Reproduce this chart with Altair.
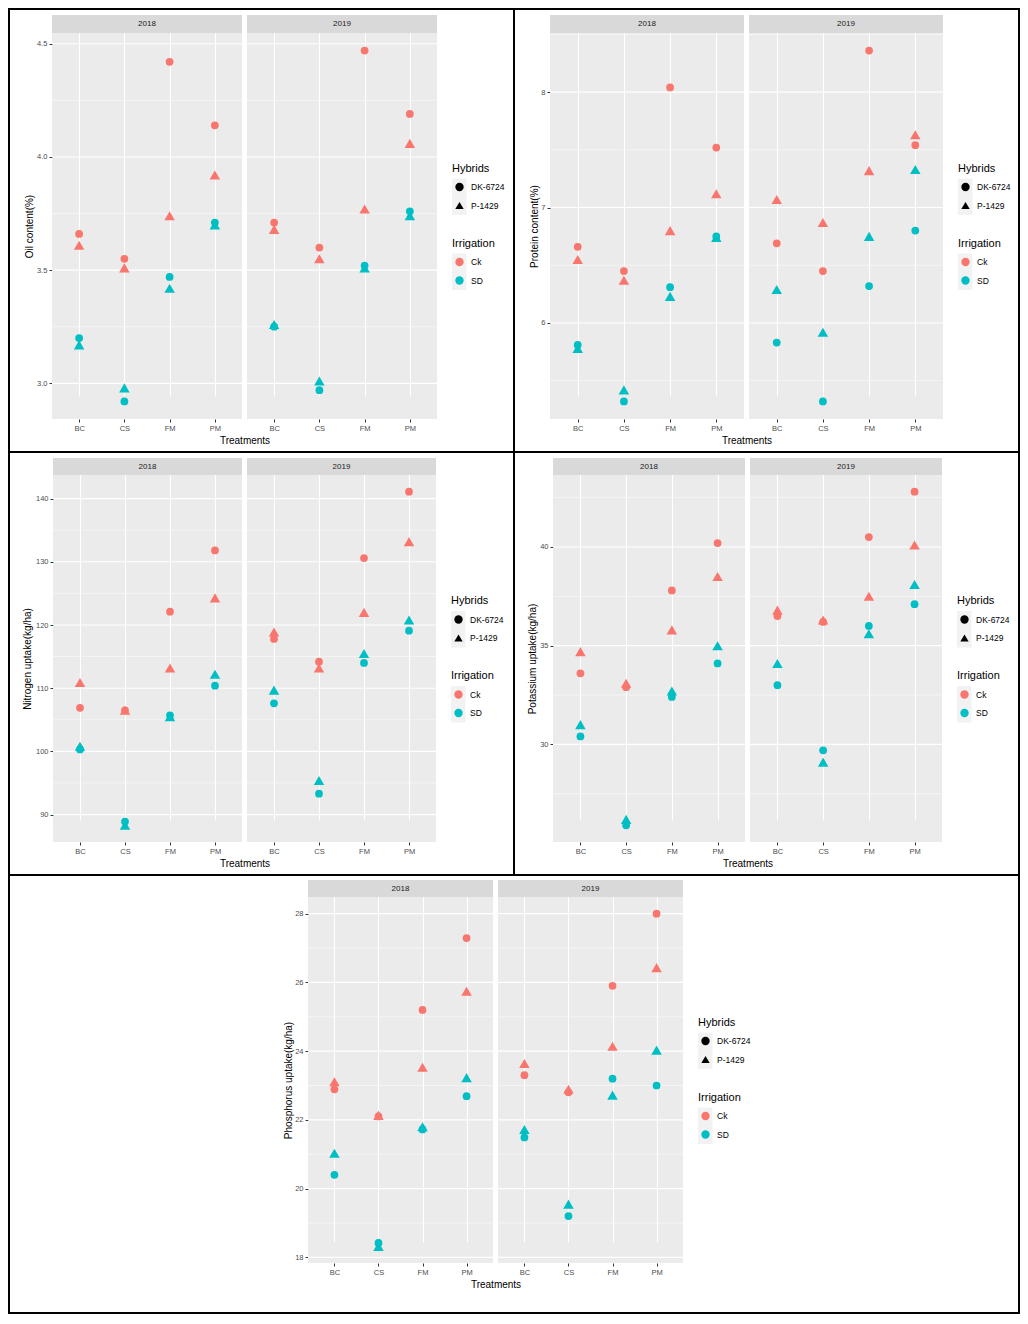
import altair as alt
import pandas as pd

TREATMENTS = ["BC", "CS", "FM", "PM"]
YEARS = ["2018", "2019"]
HYBRIDS = ["DK-6724", "P-1429"]
IRRIGATION = ["Ck", "SD"]
COLORS = ["#F8766D", "#00BFC4"]

# each list: 2018 BC, CS, FM, PM, then 2019 BC, CS, FM, PM
OIL_CK_DK = [3.66, 3.55, 4.42, 4.14, 3.71, 3.60, 4.47, 4.19]
OIL_CK_P = [3.61, 3.51, 3.74, 3.92, 3.68, 3.55, 3.77, 4.06]
OIL_SD_DK = [3.20, 2.92, 3.47, 3.71, 3.25, 2.97, 3.52, 3.76]
OIL_SD_P = [3.17, 2.98, 3.42, 3.70, 3.26, 3.01, 3.51, 3.74]

PROT_CK_DK = [6.66, 6.45, 8.04, 7.52, 6.69, 6.45, 8.36, 7.54]
PROT_CK_P = [6.55, 6.37, 6.80, 7.12, 7.07, 6.87, 7.32, 7.63]
PROT_SD_DK = [5.81, 5.32, 6.31, 6.75, 5.83, 5.32, 6.32, 6.80]
PROT_SD_P = [5.78, 5.42, 6.23, 6.74, 6.29, 5.92, 6.75, 7.33]

N_CK_DK = [106.9, 106.5, 122.1, 131.8, 117.8, 114.2, 130.6, 141.1]
N_CK_P = [110.9, 106.5, 113.2, 124.3, 118.9, 113.2, 122.0, 133.2]
N_SD_DK = [100.3, 88.9, 105.7, 110.4, 107.6, 93.3, 114.0, 119.1]
N_SD_P = [100.8, 88.3, 105.5, 112.2, 109.7, 95.4, 115.5, 120.8]

K_CK_DK = [33.6, 32.9, 37.8, 40.2, 36.5, 36.2, 40.5, 42.8]
K_CK_P = [34.7, 33.1, 35.8, 38.5, 36.8, 36.3, 37.5, 40.1]
K_SD_DK = [30.4, 25.9, 32.4, 34.1, 33.0, 29.7, 36.0, 37.1]
K_SD_P = [31.0, 26.2, 32.7, 35.0, 34.1, 29.1, 35.6, 38.1]

P_CK_DK = [22.89, 22.10, 25.20, 27.29, 23.30, 22.80, 25.90, 28.00]
P_CK_P = [23.11, 22.13, 23.53, 25.74, 23.64, 22.89, 24.14, 26.43]
P_SD_DK = [20.40, 18.42, 21.72, 22.69, 21.49, 19.20, 23.20, 23.00]
P_SD_P = [21.03, 18.32, 21.80, 23.23, 21.72, 19.55, 22.72, 24.03]

OIL_TICKS = [3.0, 3.5, 4.0, 4.5]
OIL_MINOR = [3.25, 3.75, 4.25]
PROT_TICKS = [6, 7, 8]
PROT_MINOR = [5.5, 6.5, 7.5, 8.5]
N_TICKS = [90, 100, 110, 120, 130, 140]
N_MINOR = [95, 105, 115, 125, 135]
K_TICKS = [30, 35, 40]
K_MINOR = [27.5, 32.5, 37.5, 42.5]
P_TICKS = [18, 20, 22, 24, 26, 28]
P_MINOR = [19, 21, 23, 25, 27]

FONT = "Liberation Sans"


def build_df(series):
    rows = []
    for (irr, hyb), vals in series.items():
        for i, v in enumerate(vals):
            rows.append({"year": YEARS[i // 4], "treatment": TREATMENTS[i % 4],
                         "irrigation": irr, "hybrid": hyb, "value": v})
    return pd.DataFrame(rows)


def spacer(w, h, fill=None):
    props = dict(width=w, height=h)
    if fill:
        props["view"] = alt.ViewBackground(fill=fill, strokeWidth=0)
    return (alt.Chart(pd.DataFrame({"a": [0]}))
            .mark_point(opacity=0, size=1, strokeWidth=0)
            .encode(x=alt.value(1), y=alt.value(1))
            .properties(**props))


def indep(c):
    return c.resolve_scale(color="independent", shape="independent",
                           x="independent", y="independent")


def plot(df, year, w, top, sh, ph, gap, domain, ticks, minor, fmt, ytitle, ytx, first):
    H = top + sh + ph
    cy = top + sh + ph / 2
    d = df[df["year"] == year]
    one = pd.DataFrame({"year": [year]})
    yscale = alt.Scale(domain=domain, range=[H, top + sh], nice=False, zero=False)
    lab = dict(tickSize=3, tickColor="#333333", labelFontSize=7.5,
               labelColor="#4D4D4D", labelPadding=2, labelFont=FONT, domain=False)
    ttl = dict(titleFontSize=10, titleFontWeight="normal", titleColor="black",
               titleFont=FONT, titleBaseline="middle", titleAlign="center")
    xgrid = dict(grid=True, gridColor="white", gridWidth=1.1)
    extra = []
    if first:
        yaxis = alt.Axis(values=ticks, format=fmt, title=ytitle, titleAngle=270,
                         titleX=ytx, titleY=cy, grid=False, **lab, **ttl)
        xaxis = alt.Axis(title="Treatments", labelAngle=0, titleX=w + gap / 2,
                         titleY=21, **xgrid, **lab, **ttl)
        shape_leg = None
        color_leg = None
    else:
        yaxis = alt.Axis(values=ticks, title=None, grid=False, labels=False,
                         ticks=False, domain=False)
        xaxis = alt.Axis(title=None, labelAngle=0, **xgrid, **lab)
        common = dict(orient="none", legendX=w + 15, titleFontSize=11,
                      titleFontWeight="normal", titleColor="black", titleFont=FONT,
                      labelFont=FONT, labelFontSize=8.5, labelColor="black",
                      symbolSize=70, symbolStrokeWidth=0, symbolOffset=3,
                      labelOffset=7, titlePadding=9, rowPadding=9.5,
                      symbolOpacity=1)
        shape_leg = alt.Legend(title="Hybrids", legendY=cy - 63.5,
                               symbolFillColor="black", symbolStrokeColor="black",
                               **common)
        color_leg = alt.Legend(title="Irrigation", legendY=cy + 11.5,
                               symbolType="circle", **common)
        # grey key backgrounds of the two legends
        for y0, y1 in ((cy - 47.5, cy - 11), (cy + 27.5, cy + 64)):
            extra.append(alt.Chart(one).mark_rect(color="#F2F2F2")
                         .encode(x=alt.value(w + 15), x2=alt.value(w + 29.5),
                                 y=alt.value(y0), y2=alt.value(y1)))
    xscale = alt.Scale(type="point", padding=0.6, domain=TREATMENTS)

    major_layer = (alt.Chart(pd.DataFrame({"value": ticks}))
                   .mark_rule(color="white", strokeWidth=1.1)
                   .encode(y=alt.Y("value:Q", scale=yscale, axis=yaxis)))
    minor_layer = (alt.Chart(pd.DataFrame({"value": minor}))
                   .mark_rule(color="white", strokeWidth=0.5)
                   .encode(y=alt.Y("value:Q", scale=yscale, axis=yaxis)))

    def pts(hyb, size):
        enc = dict(
            x=alt.X("treatment:N", scale=xscale, sort=TREATMENTS, axis=xaxis),
            y=alt.Y("value:Q", scale=yscale, axis=yaxis),
            color=alt.Color("irrigation:N",
                            scale=alt.Scale(domain=IRRIGATION, range=COLORS),
                            legend=color_leg),
            shape=alt.Shape("hybrid:N",
                            scale=alt.Scale(domain=HYBRIDS,
                                            range=["circle", "triangle-up"]),
                            legend=shape_leg),
        )
        return (alt.Chart(d[d["hybrid"] == hyb])
                .mark_point(filled=True, opacity=1, strokeWidth=0, size=size)
                .encode(**enc))

    top_mask = (alt.Chart(one).mark_rect(color="white")
                .encode(x=alt.value(0), x2=alt.value(w), y=alt.value(0),
                        y2=alt.value(top)))
    strip_bg = (alt.Chart(one).mark_rect(color="#D9D9D9")
                .encode(x=alt.value(0), x2=alt.value(w), y=alt.value(top),
                        y2=alt.value(top + sh)))
    strip_txt = (alt.Chart(one)
                 .mark_text(fontSize=8, color="#1A1A1A", font=FONT,
                            baseline="middle")
                 .encode(text="year:N", x=alt.value(w / 2),
                         y=alt.value(top + sh / 2)))
    return (alt.layer(major_layer, minor_layer,
                      pts("DK-6724", 60), pts("P-1429", 110),
                      top_mask, strip_bg, strip_txt, *extra)
            .properties(width=w, height=H,
                        view=alt.ViewBackground(fill="#EBEBEB", strokeWidth=0)))


def quadrant(series, ticks, minor, fmt, ytitle, ytx, L, W, gap, R, top, sh, ph):
    df = build_df(series)
    vals = df["value"]
    span = vals.max() - vals.min()
    domain = [float(vals.min() - 0.05 * span), float(vals.max() + 0.05 * span)]
    H = top + sh + ph
    p18 = plot(df, "2018", W, top, sh, ph, gap, domain, ticks, minor, fmt,
               ytitle, ytx, True)
    p19 = plot(df, "2019", W, top, sh, ph, gap, domain, ticks, minor, fmt,
               ytitle, ytx, False)
    return [spacer(L, H), p18, spacer(gap, H), p19, spacer(R, H)]


def vline(h):
    return spacer(2, h, "black")


def hline(w):
    return spacer(w, 2, "black")


oil = quadrant({("Ck", "DK-6724"): OIL_CK_DK, ("Ck", "P-1429"): OIL_CK_P,
                ("SD", "DK-6724"): OIL_SD_DK, ("SD", "P-1429"): OIL_SD_P},
               OIL_TICKS, OIL_MINOR, ".1f", "Oil content(%)", -23,
               42, 190, 5, 76, 5, 18, 386)
prot = quadrant({("Ck", "DK-6724"): PROT_CK_DK, ("Ck", "P-1429"): PROT_CK_P,
                 ("SD", "DK-6724"): PROT_SD_DK, ("SD", "P-1429"): PROT_SD_P},
                PROT_TICKS, PROT_MINOR, "d", "Protein content(%)", -16,
                35, 194, 5, 75, 5, 18, 386)
nit = quadrant({("Ck", "DK-6724"): N_CK_DK, ("Ck", "P-1429"): N_CK_P,
                ("SD", "DK-6724"): N_SD_DK, ("SD", "P-1429"): N_SD_P},
               N_TICKS, N_MINOR, "d", "Nitrogen uptake(kg/ha)", -26,
               43, 189, 5, 77, 5, 17, 367)
pot = quadrant({("Ck", "DK-6724"): K_CK_DK, ("Ck", "P-1429"): K_CK_P,
                ("SD", "DK-6724"): K_SD_DK, ("SD", "P-1429"): K_SD_P},
               K_TICKS, K_MINOR, "d", "Potassium uptake(kg/ha)", -21,
               38, 192, 5, 76, 5, 17, 367)
pho = quadrant({("Ck", "DK-6724"): P_CK_DK, ("Ck", "P-1429"): P_CK_P,
                ("SD", "DK-6724"): P_SD_DK, ("SD", "P-1429"): P_SD_P},
               P_TICKS, P_MINOR, "d", "Phosphorus uptake(kg/ha)", -20,
               298, 185, 5, 335, 4, 17, 366)

row1 = indep(alt.hconcat(vline(441), *oil, vline(441), *prot, vline(441),
                         spacing=0, bounds="flush"))
row2 = indep(alt.hconcat(vline(421), *nit, vline(421), *pot, vline(421),
                         spacing=0, bounds="flush"))
row3 = indep(alt.hconcat(vline(436), *pho, vline(436), spacing=0, bounds="flush"))

chart = indep(alt.vconcat(hline(1012), row1, hline(1012), row2, hline(1012),
                          row3, hline(1012), spacing=0))
chart = (chart.properties(padding=0)
         .configure(font=FONT)
         .configure_view(strokeWidth=0))

chart.save("out.html", embed_options={"renderer": "svg", "actions": False})
